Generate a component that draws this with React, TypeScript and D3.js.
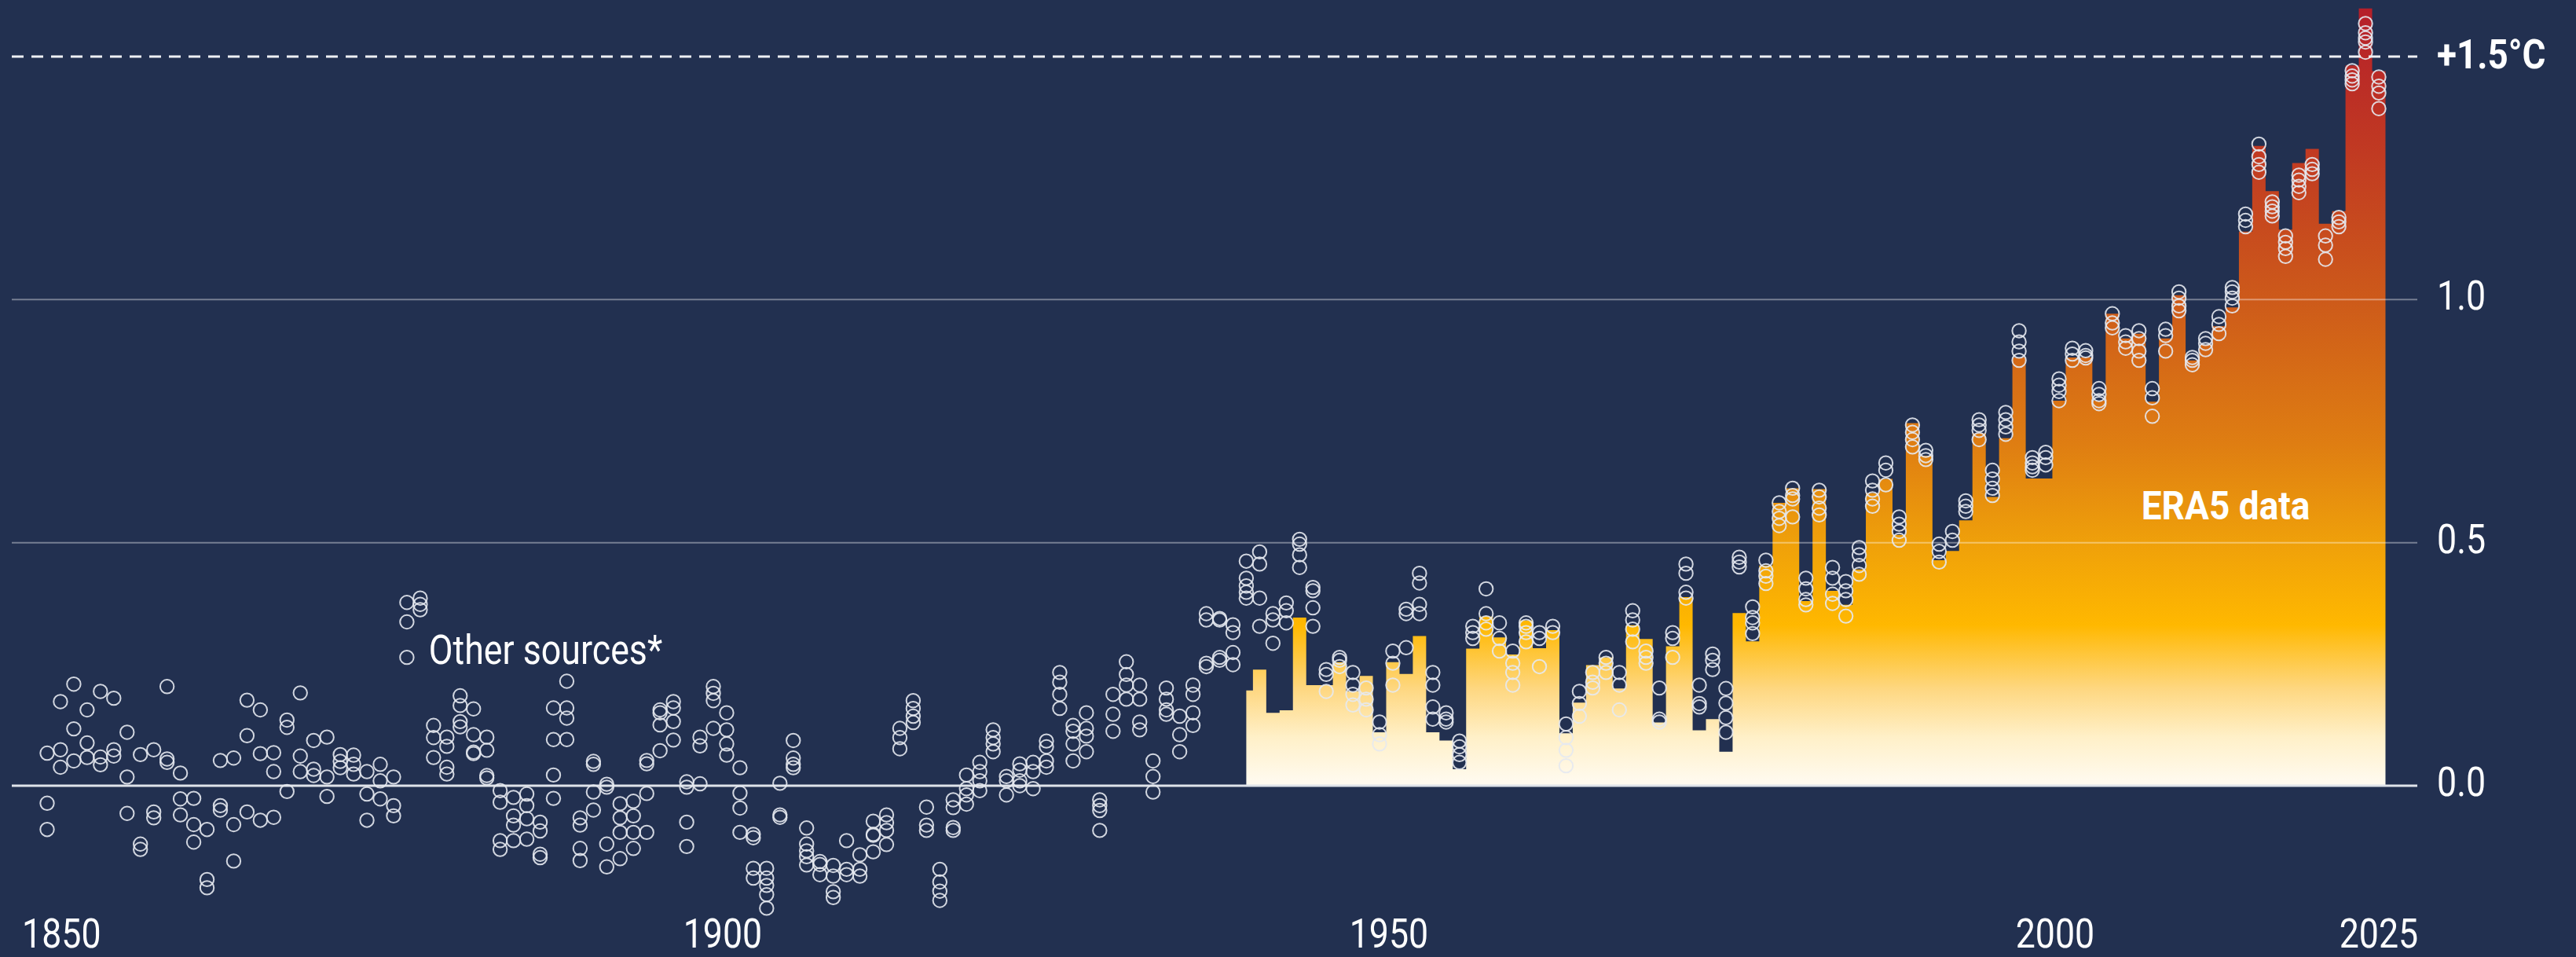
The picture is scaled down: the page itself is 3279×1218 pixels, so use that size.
import * as d3 from 'd3';

const W = 3279;
const H = 1218;

const firstYear = 1850;
const lastYear = 2025;
const era5FirstYear = 1940;

// ERA5 annual anomaly vs 1850-1900 (°C), 1940..2025
const era5 = [
  0.196, 0.239, 0.15, 0.155, 0.346, 0.207, 0.207, 0.254, 0.194, 0.226,
  0.11, 0.254, 0.23, 0.308, 0.11, 0.093, 0.034, 0.282, 0.348, 0.305,
  0.27, 0.34, 0.283, 0.32, 0.108, 0.171, 0.248, 0.264, 0.2, 0.33,
  0.302, 0.13, 0.287, 0.388, 0.114, 0.137, 0.07, 0.355, 0.297, 0.453,
  0.582, 0.612, 0.38, 0.61, 0.401, 0.372, 0.445, 0.602, 0.631, 0.516,
  0.746, 0.679, 0.464, 0.483, 0.546, 0.725, 0.594, 0.715, 0.881, 0.632,
  0.632, 0.792, 0.881, 0.881, 0.792, 0.971, 0.92, 0.93, 0.79, 0.92,
  1.009, 0.875, 0.907, 0.945, 0.984, 1.14, 1.316, 1.223, 1.144, 1.281,
  1.31, 1.156, 1.182, 1.482, 1.599, 1.47,
];

// other datasets, one list per year
const others1850to1879 = [
  [0.067, -0.036, -0.09], [0.173, 0.074, 0.038], [0.209, 0.117, 0.051], [0.156, 0.088, 0.058],
  [0.194, 0.059, 0.043], [0.18, 0.074, 0.061], [0.11, 0.018, -0.057], [0.064, -0.12, -0.131],
  [0.074, -0.054, -0.066], [0.204, 0.055, 0.048], [0.026, -0.027, -0.06], [-0.026, -0.08, -0.116],
  [-0.09, -0.193, -0.21], [0.052, -0.041, -0.05], [0.057, -0.08, -0.155], [0.176, 0.103, -0.054],
  [0.156, 0.066, -0.071], [0.068, 0.029, -0.065], [0.135, 0.12, -0.012], [0.191, 0.061, 0.029],
  [0.093, 0.034, 0.021], [0.1, 0.018, -0.022], [0.064, 0.05, 0.037], [0.063, 0.044, 0.024],
  [0.029, -0.017, -0.071], [0.044, 0.01, -0.027], [0.018, -0.041, -0.062], [0.377, 0.337, 0.264],
  [0.386, 0.373, 0.362], [0.124, 0.099, 0.058],
];

const others1880to1909 = [
  [0.1, 0.081, 0.038, 0.024], [0.185, 0.165, 0.132, 0.121], [0.158, 0.105, 0.069, 0.066],
  [0.1, 0.073, 0.021, 0.016], [-0.01, -0.034, -0.113, -0.131], [-0.024, -0.062, -0.081, -0.113],
  [-0.017, -0.041, -0.068, -0.11], [-0.075, -0.093, -0.141, -0.148], [0.16, 0.095, 0.022, -0.026],
  [0.215, 0.16, 0.139, 0.095], [-0.066, -0.081, -0.129, -0.154], [0.05, 0.044, -0.013, -0.05],
  [0.003, -0.003, -0.12, -0.167], [-0.037, -0.066, -0.096, -0.15], [-0.032, -0.062, -0.096, -0.129],
  [0.052, 0.045, -0.016, -0.096], [0.156, 0.15, 0.125, 0.072], [0.173, 0.16, 0.132, 0.094],
  [0.008, -0.003, -0.075, -0.125], [0.1, 0.082, 0.004], [0.204, 0.19, 0.175, 0.118],
  [0.15, 0.115, 0.086, 0.063], [0.037, -0.015, -0.046, -0.096], [-0.1, -0.107, -0.17, -0.19],
  [-0.17, -0.19, -0.205, -0.224, -0.252], [0.005, -0.06, -0.065], [0.093, 0.057, 0.044, 0.037],
  [-0.087, -0.12, -0.134, -0.146, -0.163], [-0.156, -0.162, -0.183], [-0.164, -0.186, -0.218, -0.23],
];

const others1910to1939 = [
  [-0.113, -0.172, -0.183], [-0.142, -0.172, -0.186], [-0.073, -0.1, -0.102, -0.136],
  [-0.06, -0.076, -0.092, -0.121], [0.118, 0.099, 0.076], [0.175, 0.159, 0.143, 0.13],
  [-0.044, -0.081, -0.092], [-0.172, -0.198, -0.217, -0.236], [-0.029, -0.045, -0.086, -0.092],
  [0.022, -0.006, -0.019, -0.038], [0.048, 0.029, 0.01, -0.01], [0.115, 0.099, 0.086, 0.07],
  [0.019, 0.01, -0.019], [0.045, 0.032, 0.01, 0.0], [0.048, 0.029, -0.006],
  [0.092, 0.08, 0.051, 0.038], [0.233, 0.213, 0.188, 0.159], [0.124, 0.112, 0.086, 0.051],
  [0.15, 0.118, 0.102, 0.07], [-0.029, -0.041, -0.051, -0.092], [0.188, 0.147, 0.112],
  [0.255, 0.229, 0.207, 0.178], [0.207, 0.178, 0.131, 0.115], [0.051, 0.019, -0.013],
  [0.201, 0.178, 0.156, 0.147], [0.143, 0.105, 0.07], [0.207, 0.188, 0.15, 0.124],
  [0.354, 0.341, 0.252, 0.245], [0.344, 0.341, 0.264, 0.258], [0.331, 0.315, 0.274, 0.249],
];

const others1940to1969 = [
  [0.462, 0.427, 0.411, 0.398, 0.386], [0.481, 0.456, 0.386, 0.328], [0.354, 0.341, 0.293],
  [0.376, 0.36, 0.335], [0.507, 0.497, 0.475, 0.449], [0.408, 0.401, 0.366, 0.328],
  [0.239, 0.229, 0.194], [0.264, 0.258, 0.245], [0.233, 0.207, 0.188, 0.166],
  [0.201, 0.178, 0.156], [0.131, 0.105, 0.086], [0.277, 0.252, 0.207],
  [0.363, 0.354, 0.284], [0.437, 0.417, 0.373, 0.354], [0.233, 0.207, 0.162, 0.137],
  [0.15, 0.137, 0.131], [0.092, 0.08, 0.064, 0.048], [0.328, 0.315, 0.303],
  [0.405, 0.354, 0.335, 0.322], [0.335, 0.303, 0.277], [0.277, 0.252, 0.233, 0.207],
  [0.335, 0.328, 0.315, 0.296], [0.315, 0.303, 0.245], [0.328, 0.315],
  [0.127, 0.099, 0.073, 0.041], [0.194, 0.169, 0.143], [0.233, 0.213, 0.201],
  [0.264, 0.252, 0.233], [0.233, 0.207, 0.156], [0.36, 0.341, 0.322, 0.296],
];

const others1970to1999 = [
  [0.277, 0.264, 0.252], [0.201, 0.137, 0.131], [0.315, 0.303, 0.264],
  [0.456, 0.437, 0.398, 0.386], [0.207, 0.169, 0.162], [0.271, 0.258, 0.239],
  [0.2, 0.17, 0.14, 0.11], [0.47, 0.46, 0.45], [0.368, 0.346, 0.335, 0.313],
  [0.464, 0.442, 0.431, 0.416], [0.582, 0.564, 0.55, 0.535], [0.612, 0.597, 0.59, 0.553],
  [0.427, 0.405, 0.383, 0.372], [0.608, 0.594, 0.571, 0.557], [0.449, 0.427, 0.394, 0.375],
  [0.42, 0.401, 0.383, 0.349], [0.49, 0.475, 0.453, 0.435], [0.627, 0.608, 0.59, 0.575],
  [0.664, 0.649, 0.619], [0.553, 0.538, 0.523, 0.505], [0.742, 0.727, 0.712, 0.697],
  [0.69, 0.679, 0.671], [0.497, 0.482, 0.46], [0.523, 0.505],
  [0.586, 0.575, 0.564], [0.753, 0.742, 0.731, 0.712], [0.649, 0.631, 0.612, 0.597],
  [0.768, 0.753, 0.738, 0.723], [0.936, 0.913, 0.894, 0.875], [0.675, 0.664, 0.656, 0.649],
];

const others2000to2025 = [
  [0.686, 0.675, 0.66], [0.837, 0.824, 0.811, 0.792], [0.9, 0.888, 0.875],
  [0.895, 0.885, 0.88], [0.817, 0.805, 0.792, 0.786], [0.971, 0.952, 0.942],
  [0.926, 0.913, 0.9], [0.936, 0.92, 0.894, 0.875], [0.817, 0.798, 0.76],
  [0.939, 0.926, 0.894], [1.016, 1.003, 0.987, 0.977], [0.881, 0.875, 0.866],
  [0.92, 0.91, 0.897], [0.965, 0.949, 0.93], [1.025, 1.016, 1.003, 0.987],
  [1.176, 1.163, 1.15], [1.32, 1.294, 1.278, 1.262], [1.201, 1.191, 1.182, 1.172],
  [1.131, 1.118, 1.105, 1.089], [1.256, 1.246, 1.233, 1.22], [1.278, 1.268, 1.259],
  [1.131, 1.112, 1.083], [1.169, 1.16, 1.15], [1.471, 1.46, 1.452, 1.444],
  [1.568, 1.549, 1.538, 1.53, 1.509], [1.458, 1.439, 1.425, 1.393],
];

const gridValues = [0.5, 1.0];
const yTickLabels = ['0.0', '0.5', '1.0'];
const yTickValues = [0, 0.5, 1.0];
const xTickYears = [1850, 1900, 1950, 2000, 2025];
const limitValue = 1.5;

const heatStops = [
  { v: 0, c: '#fffbf2' },
  { v: 0.1, c: '#fff0c8' },
  { v: 0.2, c: '#fed780' },
  { v: 0.33, c: '#ffb800' },
  { v: 0.5, c: '#efa00a' },
  { v: 0.7, c: '#df7e12' },
  { v: 1.0, c: '#cd5a1a' },
  { v: 1.3, c: '#c13a22' },
  { v: 1.6, c: '#b51f2a' },
];

const BG = '#223050';
const FONT = 'Roboto, "Noto Sans", sans-serif';
const SQUEEZE = 0.86;

export default function App() {
  const x = d3.scaleLinear().domain([firstYear, lastYear]).range([60, 3028]);
  const y = d3.scaleLinear().domain([0, 1.5]).range([1000, 72]);
  const left = 15;
  const right = 3077;
  const yearBaseline = 1206;

  // step edges for the ERA5 area: first step starts at the first year's position
  const edges = era5.map((v, i) => ({
    x: i === 0 ? x(era5FirstYear) : x(era5FirstYear + i - 0.5),
    v,
  }));
  edges.push({ x: x(era5FirstYear + era5.length - 0.5), v: era5[era5.length - 1] });

  const area = d3
    .area<{ x: number; v: number }>()
    .x((d) => d.x)
    .y0(y(0))
    .y1((d) => y(d.v))
    .curve(d3.curveStepAfter);

  const others = [
    ...others1850to1879,
    ...others1880to1909,
    ...others1910to1939,
    ...others1940to1969,
    ...others1970to1999,
    ...others2000to2025,
  ];
  const points = others.flatMap((vals, i) => vals.map((v) => ({ year: firstYear + i, v })));

  const txt = (
    key: string,
    tx: number,
    ty: number,
    label: string,
    opts: { anchor?: string; weight?: number; size?: number; squeeze?: number } = {}
  ) => (
    <text
      key={key}
      transform={`translate(${tx},${ty}) scale(${opts.squeeze ?? SQUEEZE},1)`}
      textAnchor={opts.anchor ?? 'start'}
      fontFamily={FONT}
      fontWeight={opts.weight ?? 400}
      fontSize={opts.size ?? 52}
      fill="#ffffff"
    >
      {label}
    </text>
  );

  const gradTop = y(1.6);

  return (
    <svg
      width={W}
      height={H}
      viewBox={`0 0 ${W} ${H}`}
      style={{ position: 'absolute', left: 0, top: 0, display: 'block' }}
    >
      <defs>
        <linearGradient id="heat" gradientUnits="userSpaceOnUse" x1={0} x2={0} y1={y(0)} y2={gradTop}>
          {heatStops.map((s) => (
            <stop key={s.v} offset={s.v / 1.6} stopColor={s.c} />
          ))}
        </linearGradient>
      </defs>
      <rect width={W} height={H} fill={BG} />

      {/* ERA5 stepped area */}
      <path d={area(edges) ?? ''} fill="url(#heat)" />

      {/* grid */}
      {gridValues.map((g) => (
        <line key={g} x1={left} x2={right} y1={y(g)} y2={y(g)} stroke="#ffffff" strokeOpacity={0.38} strokeWidth={2} />
      ))}
      <line x1={left} x2={right} y1={y(0)} y2={y(0)} stroke="#dfe3ea" strokeWidth={3} />

      {/* other datasets */}
      <g fill="none" stroke="#e6e9f0" strokeWidth={2} strokeOpacity={0.9}>
        {points.map((p, i) => (
          <circle key={i} cx={x(p.year)} cy={y(p.v)} r={8.7} />
        ))}
      </g>

      {/* 1.5 limit */}
      <line
        x1={left}
        x2={right}
        y1={y(limitValue)}
        y2={y(limitValue)}
        stroke="#eef0f4"
        strokeWidth={3}
        strokeDasharray="15 10"
      />

      {/* y labels */}
      {yTickValues.map((v, i) => txt(`yt${i}`, right + 25, y(v) + 13, yTickLabels[i]))}
      {txt('limit', right + 25, y(limitValue) + 15, '+1.5°C', { weight: 700, squeeze: 0.88 })}

      {/* x labels */}
      {xTickYears.map((yr, i) => {
        if (i === 0) return txt(`xt${i}`, x(yr) - 32, yearBaseline, String(yr));
        if (i === xTickYears.length - 1) return txt(`xt${i}`, x(yr), yearBaseline, String(yr), { anchor: 'middle' });
        return txt(`xt${i}`, x(yr) + 12, yearBaseline, String(yr), { anchor: 'middle' });
      })}

      {/* annotations */}
      {txt('other', x(1879) - 6, y(0.25), 'Other sources*')}
      {txt('era5', x(2007) + 3, y(0.548), 'ERA5 data', { weight: 700, size: 50, squeeze: 0.92 })}
    </svg>
  );
}
